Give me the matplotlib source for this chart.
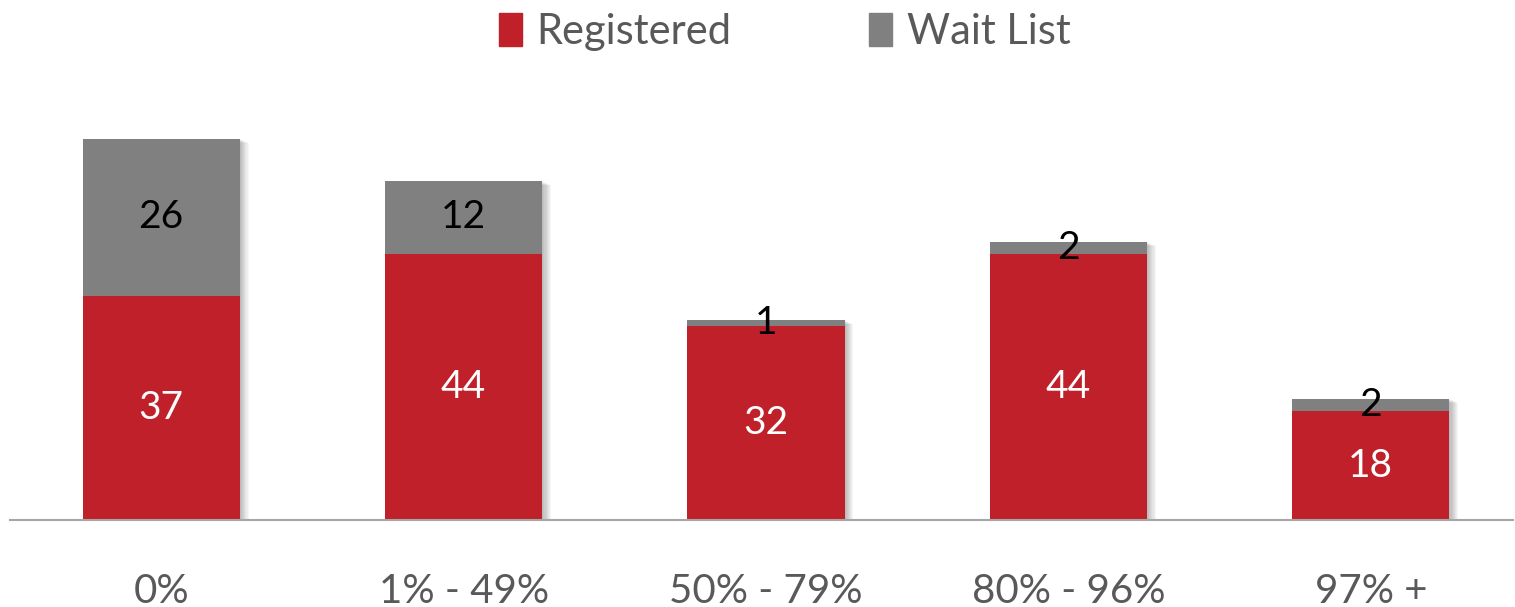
import numpy as np
import matplotlib.pyplot as plt
from matplotlib.patches import Rectangle, Patch
import matplotlib.transforms as mtransforms

categories = ["0%", "1% - 49%", "50% - 79%", "80% - 96%", "97% +"]
registered = [37, 44, 32, 44, 18]
wait_list = [26, 12, 1, 2, 2]

red = "#C0202A"
gray = "#808080"

plt.rcParams['font.family'] = ['Lato', 'DejaVu Sans']

fig = plt.figure(figsize=(15.15, 6.07), dpi=100)
ax = fig.add_axes([0.0066, 0.1433, 0.992, 0.75])

x = np.arange(len(categories))
width = 0.52
totals = np.array(registered) + np.array(wait_list)

# soft drop shadow: stacked translucent rectangles offset to the right/down
for i, xi in enumerate(x):
    for k in range(1, 9):
        off = mtransforms.offset_copy(ax.transData, fig=fig, x=k * 1.1, y=-k * 0.5, units='dots')
        ax.add_patch(Rectangle((xi - width / 2, 0), width, totals[i], transform=off,
                               facecolor='black', alpha=0.035, lw=0, zorder=1))

ax.bar(x, registered, width, color=red, zorder=2, label="Registered")
ax.bar(x, wait_list, width, bottom=registered, color=gray, zorder=2, label="Wait List")

for i, xi in enumerate(x):
    ax.text(xi, registered[i] / 2, str(registered[i]), ha='center', va='center',
            color='white', fontsize=28, zorder=3)
    ax.text(xi, registered[i] + wait_list[i] / 2, str(wait_list[i]), ha='center', va='center',
            color='black', fontsize=28, zorder=3)

ax.set_xlim(-0.5, 4.47)
ax.set_ylim(0, 75.2)
ax.set_yticks([])
ax.set_xticks(x)
ax.set_xticklabels(categories, fontsize=29, color='#595959')
ax.tick_params(axis='x', length=0, pad=38)
for s in ['top', 'right', 'left']:
    ax.spines[s].set_visible(False)
ax.spines['bottom'].set_color('#A6A6A6')
ax.spines['bottom'].set_linewidth(1.5)
ax.spines['bottom'].set_zorder(4)

handles = [Patch(color=red, label="Registered"), Patch(color=gray, label="Wait List")]
fig.legend(handles=handles, loc='upper center', bbox_to_anchor=(0.518, 1.04), ncol=2,
           frameon=False, fontsize=30, handlelength=0.55, handleheight=0.85,
           handletextpad=0.35, columnspacing=3.3, labelcolor='#595959')

fig.savefig("out.png", dpi=100)
